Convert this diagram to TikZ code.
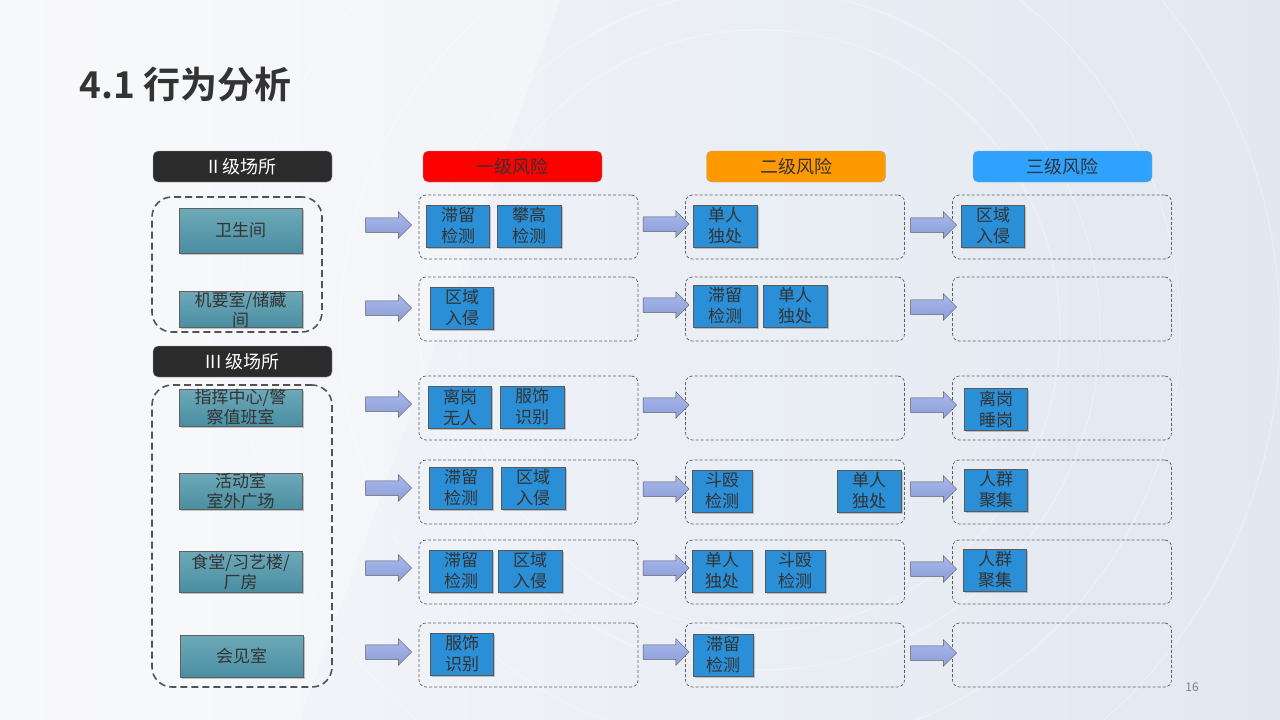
\documentclass[tikz,border=0pt]{standalone}
\usepackage{fontspec}
\setmainfont{Noto Sans CJK SC}[BoldFont={Noto Sans CJK SC Bold}]
\usetikzlibrary{shapes.arrows,shadows}
\definecolor{darkhdr}{HTML}{2B2B2B}
\definecolor{redhdr}{HTML}{FF0000}
\definecolor{orghdr}{HTML}{FF9900}
\definecolor{bluhdr}{HTML}{2FA1FF}
\definecolor{itemblue}{HTML}{2A8FD6}
\definecolor{txt}{HTML}{333333}
\definecolor{tealtop}{HTML}{6DA9B8}
\definecolor{tealbot}{HTML}{4A8EA2}
\definecolor{arrowfill}{HTML}{98ACEA}
\definecolor{bgl}{HTML}{F6F7FA}
\definecolor{bgr}{HTML}{E2E8F1}
\tikzset{
  hdr/.style={rounded corners=5pt, draw=gray!70, minimum width=179pt, minimum height=31pt, inner sep=0pt, font=\fontsize{18}{20}\selectfont},
  loc/.style={draw=gray!75!black, top color=tealtop, bottom color=tealbot, minimum width=123pt, inner sep=0pt, text=txt, align=center, font=\fontsize{17}{20}\selectfont, drop shadow={opacity=0.45, shadow xshift=1.5pt, shadow yshift=-2pt}},
  item/.style={fill=itemblue, draw=gray!70!black, minimum height=42pt, minimum width=63pt, inner sep=0pt, align=center, text=txt, font=\fontsize{17}{21}\selectfont, drop shadow={opacity=0.45, shadow xshift=1.5pt, shadow yshift=-2pt}},
  grp/.style={draw=gray!75!black, dash pattern=on 3pt off 2pt, line width=0.7pt, rounded corners=7pt, minimum width=219pt, minimum height=64pt, inner sep=0pt},
  biggrp/.style={draw=gray!65!black, line width=1.6pt, dash pattern=on 7pt off 4pt, rounded corners=20pt, inner sep=0pt},
  blk/.style={single arrow, draw=gray!70!black, line width=0.5pt, top color=arrowfill!85!white, bottom color=arrowfill!92!black, minimum height=46pt, single arrow head extend=6pt, single arrow head indent=0pt, inner xsep=0pt, inner ysep=7pt},
}
\begin{document}
\begin{tikzpicture}[x=1pt,y=-1pt]
\useasboundingbox (0,0) rectangle (1280,720);
% background
\shade[left color=bgl, right color=bgr] (0,0) rectangle (1280,720);
\begin{scope}
\clip (0,0) rectangle (1280,720);
\foreach \r in {300,340,420,520}
  \draw[white, opacity=0.3, line width=1.2pt] (760,330) circle (\r);
\fill[white, opacity=0.3] (0,0) -- (560,0) -- (300,720) -- (0,720) -- cycle;
\end{scope}

% title
\node[anchor=base west, inner sep=0pt, text=txt, font=\fontsize{37}{40}\selectfont\bfseries] (title) at (79,98) {4.1 行为分析};

% headers
\node[hdr, fill=darkhdr, text=white] (h2) at (242.5,166.5) {II 级场所};
\node[hdr, fill=darkhdr, text=white] (h3) at (242.5,361.5) {III 级场所};
\node[hdr, fill=redhdr, text=txt] (r1) at (512.5,166.5) {一级风险};
\node[hdr, fill=orghdr, text=txt] (r2) at (796,166.5) {二级风险};
\node[hdr, fill=bluhdr, text=txt] (r3) at (1062.5,166.5) {三级风险};

% left groups
\node[biggrp, minimum width=170pt, minimum height=135pt] (g1) at (237,264.5) {};
\node[biggrp, minimum width=180pt, minimum height=302pt] (g2) at (242,536) {};

% locations
\node[loc, minimum height=45pt] (l1) at (240.5,230.5) {卫生间};
\node[loc, minimum height=35pt] (l2) at (240.5,309.5) {机要室/储藏\\间};
\node[loc, minimum height=37pt] (l3) at (240.5,407.5) {指挥中心/警\\察值班室};
\node[loc, minimum height=35pt] (l4) at (240.5,491.5) {活动室\\室外广场};
\node[loc, minimum height=41pt] (l5) at (240.5,571.5) {食堂/习艺楼/\\厂房};
\node[loc, minimum height=42pt] (l6) at (241.5,656) {会见室};

% dashed risk groups
\foreach \c/\x in {a/528.5,b/795,c/1062}{
  \foreach \r/\y in {1/227,2/309,3/408,4/492,5/572,6/655}{
    \node[grp] (\c\r) at (\x,\y) {};
  }
}

% block arrows
\foreach \r/\y in {1/225,2/308,3/404,4/488,5/568,6/652}
  \node[blk] (pa\r) at (385,\y) {};
\foreach \r/\y in {1/224,2/305,3/405,4/489,5/568,6/652}
  \node[blk] (pb\r) at (662.5,\y) {};
\foreach \r/\y in {1/225,2/307,3/405,4/489,5/569,6/653}
  \node[blk] (pc\r) at (930,\y) {};

% items column 1
\node[item] (a1i) at (458,226) {滞留\\检测};
\node[item, minimum width=64pt] (a1j) at (529,226) {攀高\\检测};
\node[item] (a2i) at (462,308) {区域\\入侵};
\node[item] (a3i) at (460,407) {离岗\\无人};
\node[item, minimum width=64pt] (a3j) at (532,407) {服饰\\识别};
\node[item] (a4i) at (461,488) {滞留\\检测};
\node[item, minimum width=64pt] (a4j) at (533,488) {区域\\入侵};
\node[item] (a5i) at (461,571) {滞留\\检测};
\node[item, minimum width=64pt] (a5j) at (530,571) {区域\\入侵};
\node[item] (a6i) at (462,654) {服饰\\识别};

% items column 2
\node[item, minimum width=64pt] (b1i) at (725,226) {单人\\独处};
\node[item, minimum width=64pt] (b2i) at (725,306) {滞留\\检测};
\node[item, minimum width=64pt] (b2j) at (795,306) {单人\\独处};
\node[item, minimum width=60pt] (b4i) at (722,491) {斗殴\\检测};
\node[item, minimum width=64pt] (b4j) at (869,491) {单人\\独处};
\node[item, minimum width=60pt] (b5i) at (722,571) {单人\\独处};
\node[item, minimum width=60pt] (b5j) at (795,571) {斗殴\\检测};
\node[item, minimum width=60pt] (b6i) at (723,655) {滞留\\检测};

% items column 3
\node[item] (c1i) at (993,226) {区域\\入侵};
\node[item] (c3i) at (996,409) {离岗\\睡岗};
\node[item] (c4i) at (996,490) {人群\\聚集};
\node[item] (c5i) at (995,570) {人群\\聚集};

% page number
\node[text=gray, font=\fontsize{12}{14}\selectfont, inner sep=0pt] (pg) at (1192,687) {16};
\end{tikzpicture}
\end{document}
